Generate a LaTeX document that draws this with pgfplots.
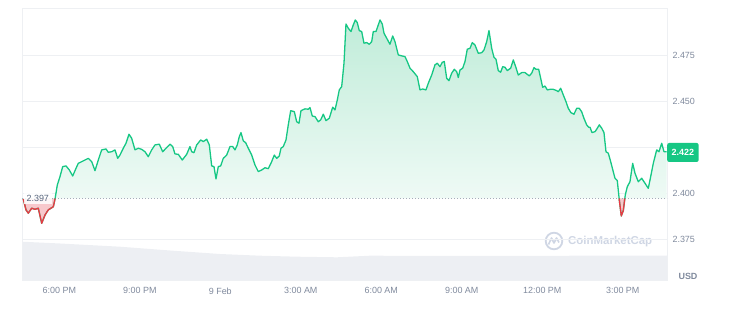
\documentclass[border=0pt]{standalone}
\usepackage{fontspec}
\setmainfont{Liberation Sans}
\usepackage{pgfplots}
\usepackage{pgfplotstable}
\pgfplotsset{compat=1.18}
\definecolor{cmcgreen}{RGB}{22,199,132}
\definecolor{cmcred}{RGB}{234,57,67}
\definecolor{tickgray}{RGB}{128,138,157}
\definecolor{darkgray}{RGB}{88,102,126}
\definecolor{gridgray}{RGB}{238,240,243}
\definecolor{volgray}{RGB}{237,239,243}
\definecolor{filltop}{RGB}{192,236,217}
\definecolor{fillbot}{RGB}{245,252,249}
\definecolor{redfill}{RGB}{248,200,204}
\definecolor{wmgray}{RGB}{207,214,228}

\pgfplotstableread{
h p
16.658 2.3967
16.759 2.3908
16.845 2.3890
16.971 2.3917
17.094 2.3911
17.217 2.3917
17.344 2.3835
17.467 2.3880
17.590 2.3908
17.777 2.3925
17.840 2.3966
17.926 2.4043
18.026 2.4089
18.127 2.4143
18.250 2.4147
18.373 2.4125
18.500 2.4092
18.623 2.4134
18.708 2.4161
18.835 2.4170
18.958 2.4179
19.081 2.4188
19.208 2.4170
19.331 2.4121
19.454 2.4179
19.580 2.4234
19.741 2.4239
19.826 2.4221
19.953 2.4224
20.076 2.4234
20.177 2.4188
20.262 2.4206
20.385 2.4243
20.486 2.4270
20.598 2.4319
20.698 2.4297
20.821 2.4234
20.944 2.4243
21.071 2.4237
21.194 2.4224
21.317 2.4197
21.444 2.4234
21.567 2.4261
21.727 2.4265
21.854 2.4224
21.977 2.4243
22.126 2.4265
22.227 2.4252
22.312 2.4212
22.435 2.4210
22.584 2.4179
22.748 2.4210
22.871 2.4252
22.935 2.4224
23.020 2.4219
23.121 2.4261
23.270 2.4288
23.367 2.4279
23.494 2.4292
23.591 2.4261
23.680 2.4147
23.766 2.4143
23.840 2.4076
23.926 2.4143
24.015 2.4147
24.112 2.4188
24.239 2.4206
24.362 2.4252
24.463 2.4252
24.549 2.4234
24.634 2.4261
24.709 2.4306
24.772 2.4328
24.858 2.4283
24.947 2.4273
25.044 2.4243
25.171 2.4206
25.294 2.4152
25.417 2.4116
25.544 2.4125
25.667 2.4137
25.790 2.4132
25.916 2.4170
26.013 2.4206
26.103 2.4188
26.199 2.4201
26.263 2.4243
26.349 2.4252
26.449 2.4288
26.535 2.4370
26.624 2.4447
26.759 2.4442
26.848 2.4387
26.934 2.4379
27.008 2.4447
27.157 2.4457
27.280 2.4455
27.344 2.4464
27.430 2.4418
27.530 2.4415
27.653 2.4387
27.743 2.4397
27.840 2.4428
27.940 2.4393
28.063 2.4406
28.190 2.4466
28.276 2.4451
28.361 2.4505
28.436 2.4560
28.525 2.4578
28.611 2.4705
28.685 2.4918
28.771 2.4895
28.872 2.4877
28.957 2.4913
29.032 2.4940
29.106 2.4926
29.181 2.4882
29.271 2.4877
29.356 2.4814
29.457 2.4817
29.554 2.4808
29.643 2.4822
29.703 2.4877
29.803 2.4877
29.889 2.4913
29.953 2.4940
30.038 2.4918
30.102 2.4868
30.202 2.4841
30.325 2.4808
30.426 2.4853
30.512 2.4822
30.635 2.4750
30.761 2.4745
30.884 2.4741
30.970 2.4714
31.071 2.4678
31.194 2.4659
31.343 2.4632
31.443 2.4560
31.544 2.4565
31.667 2.4560
31.753 2.4596
31.880 2.4641
32.002 2.4696
32.088 2.4705
32.189 2.4686
32.274 2.4710
32.349 2.4714
32.439 2.4623
32.524 2.4610
32.625 2.4651
32.722 2.4672
32.811 2.4659
32.871 2.4627
32.934 2.4668
33.035 2.4678
33.121 2.4714
33.206 2.4781
33.307 2.4786
33.393 2.4817
33.493 2.4804
33.616 2.4759
33.743 2.4762
33.829 2.4777
33.929 2.4822
34.015 2.4882
34.116 2.4786
34.201 2.4737
34.276 2.4727
34.361 2.4665
34.451 2.4656
34.525 2.4686
34.611 2.4683
34.697 2.4665
34.824 2.4678
34.921 2.4723
35.010 2.4686
35.107 2.4641
35.234 2.4654
35.357 2.4654
35.517 2.4636
35.607 2.4651
35.692 2.4681
35.767 2.4672
35.867 2.4672
35.942 2.4623
36.016 2.4574
36.102 2.4581
36.188 2.4560
36.289 2.4563
36.412 2.4563
36.538 2.4556
36.598 2.4550
36.687 2.4569
36.784 2.4533
36.885 2.4496
36.970 2.4460
37.071 2.4436
37.183 2.4428
37.284 2.4460
37.380 2.4460
37.470 2.4441
37.556 2.4405
37.656 2.4370
37.731 2.4357
37.780 2.4357
37.854 2.4328
37.966 2.4333
38.029 2.4346
38.126 2.4370
38.216 2.4352
38.301 2.4328
38.376 2.4224
38.462 2.4216
38.551 2.4170
38.648 2.4115
38.711 2.4080
38.797 2.4067
38.872 2.3962
38.946 2.3875
39.021 2.3904
39.095 2.3989
39.170 2.4034
39.270 2.4061
39.371 2.4161
39.457 2.4107
39.580 2.4061
39.706 2.4080
39.829 2.4053
39.952 2.4025
40.042 2.4089
40.139 2.4161
40.266 2.4234
40.351 2.4224
40.452 2.4270
40.538 2.4224
40.638 2.4224
}\pricedata

\pgfplotstableread{
h p
16.658 2.3967
16.759 2.3908
16.845 2.3890
16.971 2.3917
17.094 2.3911
17.217 2.3917
17.344 2.3835
17.467 2.3880
17.590 2.3908
17.777 2.3925
17.840 2.3966
17.844 2.3970
}\redA

\pgfplotstableread{
h p
38.866 2.3970
38.872 2.3962
38.946 2.3875
39.021 2.3904
39.078 2.3970
}\redB

\pgfplotstableread{
h v
16.61 38.3
18.03 36.5
20.26 33.3
22.13 29.5
23.99 26.0
25.48 24.3
26.86 23.3
28.35 22.7
29.58 24.3
32.56 24.0
36.29 24.2
40.65 24.5
}\voldata

\begin{document}
\begin{tikzpicture}
\path[use as bounding box] (-22bp,-41bp) rectangle (711bp,280bp);

% volume
\begin{axis}[at={(0,0)}, anchor=south west, scale only axis,
  width=645bp, height=272bp,
  xmin=16.61, xmax=40.65, ymin=0, ymax=272,
  hide axis]
\addplot[draw=none, fill=volgray] table[x=h, y=v] {\voldata} \closedcycle;
\end{axis}

% watermark
\draw[wmgray, line width=1.8bp] (532bp,39bp) circle (8.3bp);
\draw[wmgray, line width=1.6bp, line join=round] (526.5bp,35.5bp) -- (529.5bp,42bp) -- (532bp,37bp) -- (534.5bp,42bp) -- (537bp,37.5bp);
\node[anchor=west, inner sep=0pt, text=wmgray, font=\fontsize{11.5}{12}\selectfont\bfseries] at (546bp,38.5bp) {CoinMarketCap};

% price
\begin{axis}[at={(0,0)}, anchor=south west, scale only axis,
  width=645bp, height=272bp,
  xmin=16.61, xmax=40.65, ymin=2.3527, ymax=2.5005,
  xtick={18,21,24,27,30,33,36,39},
  xticklabels={6:00 PM,9:00 PM,9 Feb,3:00 AM,6:00 AM,9:00 AM,12:00 PM,3:00 PM},
  ytick={2.375,2.4,2.425,2.45,2.475},
  yticklabels={2.375,2.400,,2.450,2.475},
  yticklabel pos=right,
  yticklabel style={anchor=west, xshift=2bp},
  xticklabel style={yshift=-4bp},
  tick label style={font=\fontsize{9}{10}\selectfont, text=tickgray},
  major tick length=0pt,
  ymajorgrids, grid style={gridgray, line width=0.7bp},
  axis line style={draw=gridgray, line width=0.7bp},
  clip=false]
\addplot[draw=none, top color=filltop, bottom color=fillbot] table[x=h, y=p] {\pricedata}
  -- (axis cs:40.638,2.397) -- (axis cs:16.658,2.397) -- cycle;
\addplot[draw=none, fill=redfill] table[x=h, y=p] {\redA} -- cycle;
\addplot[draw=none, fill=redfill] table[x=h, y=p] {\redB} -- cycle;
\addplot[tickgray!70, dash pattern=on 0.9bp off 2.1bp, line width=0.8bp] coordinates {(16.61,2.397) (40.65,2.397)};
\addplot[cmcgreen, line width=1.3bp, line join=round] table[x=h, y=p] {\pricedata};
\addplot[cmcred, line width=1.3bp, line join=round] table[x=h, y=p] {\redA};
\addplot[cmcred, line width=1.3bp, line join=round] table[x=h, y=p] {\redB};
\node[anchor=west, fill=white, fill opacity=0.85, text opacity=1, inner xsep=3bp, inner ysep=2bp,
  font=\fontsize{9}{10}\selectfont, text=darkgray] at (axis cs:16.66,2.397) {2.397};
\node[anchor=west, fill=cmcgreen, text=white, rounded corners=2bp, minimum height=19bp, inner xsep=4.5bp,
  font=\fontsize{9}{10}\selectfont\bfseries] at (axis cs:40.65,2.422) {2.422};
\node[anchor=west, xshift=8bp, yshift=3.5bp, font=\fontsize{9}{10}\selectfont\bfseries, text=tickgray] at (rel axis cs:1,0) {USD};
\end{axis}
\end{tikzpicture}
\end{document}
